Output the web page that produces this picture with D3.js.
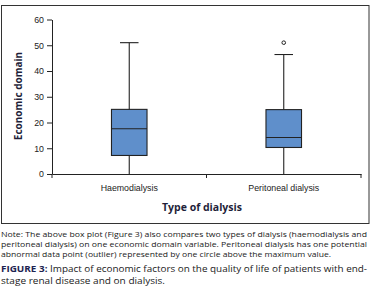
<!DOCTYPE html>
<html>
<head>
<meta charset="utf-8">
<script src="https://cdn.jsdelivr.net/npm/d3@7"></script>
<style>
	body { margin: 0; background: #fff; }
	svg { display: block; font-family: "Open Sans", "Noto Sans", sans-serif; }
	.axis text { font-size: 8.8px; fill: #222; }
	.axis path, .axis line { stroke: #222; }
	.note { font-size: 7.8px; fill: #1a1a1a; }
	.caption { font-size: 9px; fill: #1a1a1a; }
</style>
</head>
<body>
<div id="chart"></div>
<script>
var w = 375;
var h = 298;

// box plot values
var categories = ["Haemodialysis", "Peritoneal dialysis"];
var whiskerLow = [0, 0];
var q1 = [7.2, 10.3];
var medians = [17.6, 14.2];
var q3 = [25.1, 25];
var whiskerHigh = [51, 46.4];
var outliers = [[], [51]];
var yTicks = [0, 10, 20, 30, 40, 50, 60];

var noteLines = [
	"Note: The above box plot (Figure 3) also compares two types of dialysis (haemodialysis and",
	"peritoneal dialysis) on one economic domain variable. Peritoneal dialysis has one potential",
	"abnormal data point (outlier) represented by one circle above the maximum value."
];
var noteWidths = [366, 366, 330];

function init(){

	var svg = d3.select("#chart")
				.append("svg")
				.attr("width", w)
				.attr("height", h);

	//frame round the chart
	svg.append("rect")
		.attr("x", 1.5)
		.attr("y", 5.5)
		.attr("width", 367.5)
		.attr("height", 218)
		.attr("fill", "none")
		.attr("stroke", "#333")
		.attr("stroke-width", 1);

	var xScale = d3.scaleBand()
					.domain(categories)
					.range([52, 361]);

	var yScale = d3.scaleLinear()
					.domain([0, 60])
					.range([174, 19.5]);

	var yAxis = d3.axisLeft(yScale)
					.tickValues(yTicks)
					.tickSize(5)
					.tickSizeOuter(0);

	svg.append("g")
		.attr("class", "axis")
		.attr("transform", "translate(52, 0)")
		.call(yAxis);

	var xAxis = d3.axisBottom(xScale)
					.tickSize(0)
					.tickSizeOuter(0)
					.tickPadding(11);

	var gx = svg.append("g")
		.attr("class", "axis")
		.attr("transform", "translate(0, 174)")
		.call(xAxis);

	//ticks between the categories
	var bounds = categories.map(function(c){ return xScale(c); }).concat([xScale.range()[1]]);
	gx.selectAll(".bound")
		.data(bounds)
		.enter()
		.append("line")
		.attr("class", "bound")
		.attr("x1", function(d){ return d; })
		.attr("x2", function(d){ return d; })
		.attr("y1", 0)
		.attr("y2", 4)
		.attr("stroke", "#222");

	var boxW = xScale.bandwidth() * 0.23;
	var capW = xScale.bandwidth() * 0.12;

	var boxes = svg.selectAll(".box")
		.data(categories)
		.enter()
		.append("g")
		.attr("class", "box")
		.attr("transform", function(d){ return "translate(" + (xScale(d) + xScale.bandwidth() / 2) + ",0)"; });

	//whisker line
	boxes.append("line")
		.attr("x1", 0).attr("x2", 0)
		.attr("y1", function(d, i){ return yScale(whiskerLow[i]); })
		.attr("y2", function(d, i){ return yScale(whiskerHigh[i]); })
		.attr("stroke", "#222")
		.attr("stroke-width", 1.1);

	//top cap
	boxes.append("line")
		.attr("x1", -capW / 2).attr("x2", capW / 2)
		.attr("y1", function(d, i){ return yScale(whiskerHigh[i]); })
		.attr("y2", function(d, i){ return yScale(whiskerHigh[i]); })
		.attr("stroke", "#222")
		.attr("stroke-width", 1.1);

	boxes.append("rect")
		.attr("x", -boxW / 2)
		.attr("width", boxW)
		.attr("y", function(d, i){ return yScale(q3[i]); })
		.attr("height", function(d, i){ return yScale(q1[i]) - yScale(q3[i]); })
		.attr("fill", "#5f8fcb")
		.attr("stroke", "#222")
		.attr("stroke-width", 1.1);

	boxes.append("line")
		.attr("x1", -boxW / 2).attr("x2", boxW / 2)
		.attr("y1", function(d, i){ return yScale(medians[i]); })
		.attr("y2", function(d, i){ return yScale(medians[i]); })
		.attr("stroke", "#222")
		.attr("stroke-width", 1.1);

	boxes.selectAll(".outlier")
		.data(function(d, i){ return outliers[i]; })
		.enter()
		.append("circle")
		.attr("class", "outlier")
		.attr("cx", 0)
		.attr("cy", function(d){ return yScale(d); })
		.attr("r", 1.8)
		.attr("fill", "#fff")
		.attr("stroke", "#222")
		.attr("stroke-width", 1);

	//axis titles
	svg.append("text")
		.attr("transform", "translate(22, 96) rotate(-90)")
		.attr("text-anchor", "middle")
		.style("font-size", "10px")
		.style("font-weight", "bold")
		.style("fill", "#1f1f3a")
		.text("Economic domain");

	svg.append("text")
		.attr("x", 202)
		.attr("y", 211)
		.attr("text-anchor", "middle")
		.style("font-size", "10.5px")
		.style("font-weight", "bold")
		.style("fill", "#1f1f3a")
		.text("Type of dialysis");

	//note under the chart
	svg.selectAll(".note")
		.data(noteLines)
		.enter()
		.append("text")
		.attr("class", "note")
		.attr("x", 1)
		.attr("y", function(d, i){ return 237 + i * 10; })
		.attr("textLength", function(d, i){ return noteWidths[i]; })
		.attr("lengthAdjust", "spacingAndGlyphs")
		.text(function(d){ return d; });

	var cap1 = svg.append("text")
		.attr("class", "caption")
		.attr("x", 1)
		.attr("y", 272)
		.attr("textLength", 366)
		.attr("lengthAdjust", "spacingAndGlyphs");
	cap1.append("tspan")
		.style("font-weight", "bold")
		.style("fill", "#1c2350")
		.text("FIGURE 3: ");
	cap1.append("tspan")
		.text("Impact of economic factors on the quality of life of patients with end-");

	svg.append("text")
		.attr("class", "caption")
		.attr("x", 1)
		.attr("y", 284)
		.attr("textLength", 164)
		.attr("lengthAdjust", "spacingAndGlyphs")
		.text("stage renal disease and on dialysis.");
}

window.onload = init;
</script>
</body>
</html>
